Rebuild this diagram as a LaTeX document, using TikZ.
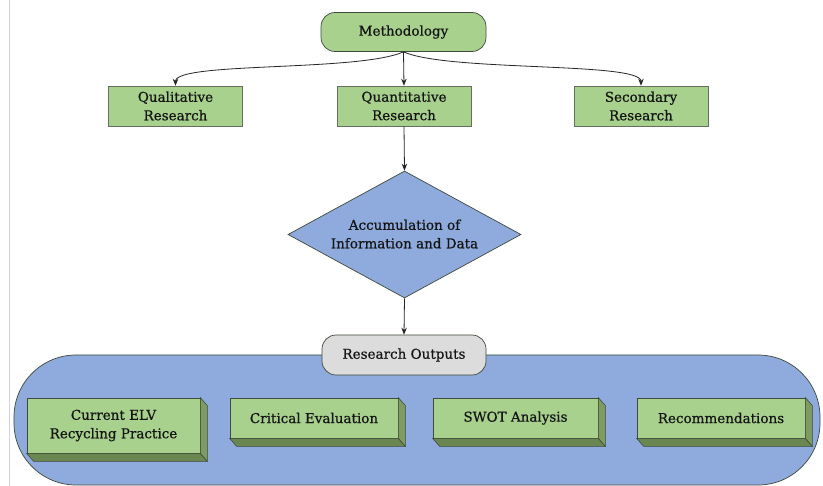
\documentclass[tikz,border=0pt]{standalone}
\usepackage{fontspec}
\setmainfont{DejaVu Serif}[FakeBold=0.6]
\usetikzlibrary{shapes.geometric,arrows.meta}
\definecolor{gfill}{HTML}{A9D18E}
\definecolor{gside}{HTML}{7E9C62}
\definecolor{gbottom}{HTML}{6A8752}
\definecolor{bfill}{HTML}{8FAADC}
\definecolor{edge}{HTML}{3F4A3A}
\definecolor{gray1}{HTML}{DCDCDC}
\tikzset{
  every node/.style={font=\fontsize{13.5}{18.5}\selectfont, text=black!92, align=center},
  pill/.style={draw=edge, line width=0.7pt, rounded corners=14pt, inner sep=0pt},
  sqbox/.style={draw=edge!80, line width=0.6pt, fill=gfill, minimum width=134pt, minimum height=40pt, inner sep=0pt},
  front/.style={draw=edge, line width=0.7pt, fill=gfill, inner sep=0pt},
  sideface/.style={draw=edge, line width=0.6pt, fill=gside},
  botface/.style={draw=edge, line width=0.6pt, fill=gbottom},
  arr/.style={-{Stealth[length=7pt,width=5.5pt]}, line width=0.8pt, draw=black!85},
}
\newcommand{\extrude}[1]{%
  \draw[botface] (#1.south west) -- (#1.south east) -- ([shift={(7,8)}]#1.south east) -- ([shift={(7,8)}]#1.south west) -- cycle;
  \draw[sideface] (#1.north east) -- ([shift={(7,8)}]#1.north east) -- ([shift={(7,8)}]#1.south east) -- (#1.south east) -- cycle;
}
\begin{document}
\begin{tikzpicture}[x=1pt,y=-1pt]
\useasboundingbox[fill=white] (0,0) rectangle (823,486);
\draw[gray!35, line width=0.8pt] (9,0) -- (9,486);

% top
\node[pill, fill=gfill, minimum width=165pt, minimum height=39pt] (meth) at (403.5,32) {Methodology};
\node[sqbox] (qual) at (175.5,106) {Qualitative\\Research};
\node[sqbox] (quan) at (404,106) {Quantitative\\Research};
\node[sqbox] (sec) at (641,106) {Secondary\\Research};

\draw[arr] (meth.south) .. controls +(-45,20) and +(0,-24) .. (qual.north);
\draw[arr] (meth.south) .. controls +(45,20) and +(0,-24) .. (sec.north);
\draw[arr] (meth.south) -- (quan.north);

% diamond
\node[diamond, draw=edge, line width=0.7pt, fill=bfill, minimum width=233pt, minimum height=127pt, inner sep=0pt, aspect=1.83] (acc) at (404.5,234.5) {};
\node at (404.5,234) {Accumulation of\\Information and Data};
\draw[arr] (quan.south) -- (acc.north);

% bottom container
\node[draw=edge, line width=0.7pt, fill=bfill, rounded corners=62pt, minimum width=806pt, minimum height=130pt, inner sep=0pt] (cont) at (417,420) {};
\node[pill, fill=gray1, minimum width=164pt, minimum height=40pt] (out) at (404,355) {Research Outputs};
\draw[arr] (acc.south) -- (out.north);

% 3D boxes
\node[front, minimum width=173pt, minimum height=55pt] (b1) at (113.5,425.5) {Current ELV\\Recycling Practice};
\extrude{b1}
\node[front, minimum width=168pt, minimum height=40pt] (b2) at (314,418) {Critical Evaluation};
\extrude{b2}
\node[front, minimum width=165pt, minimum height=40pt] (b3) at (515.5,418) {SWOT Analysis};
\extrude{b3}
\node[front, minimum width=168pt, minimum height=40pt] (b4) at (721,418) {Recommendations};
\extrude{b4}
\end{tikzpicture}
\end{document}
